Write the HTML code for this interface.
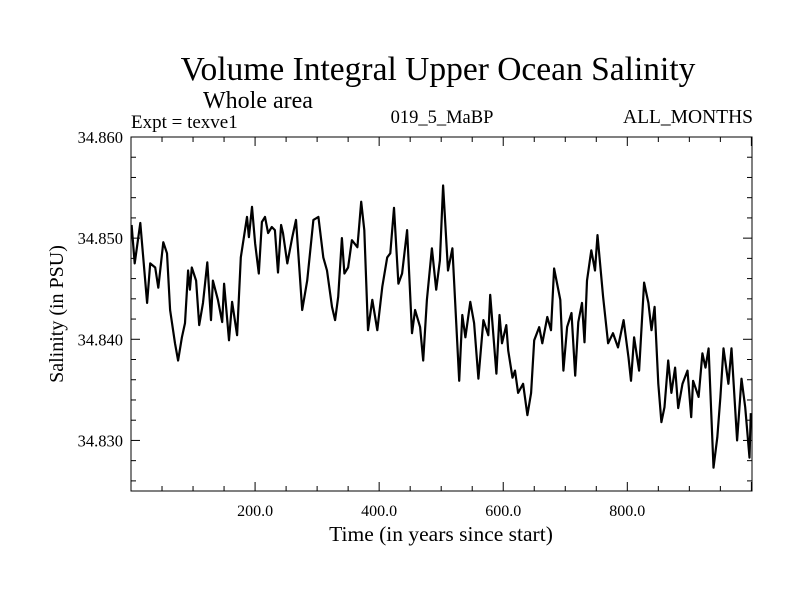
<!DOCTYPE html>
<html><head><meta charset="utf-8"><style>
html,body{margin:0;padding:0;background:#fff;width:800px;height:600px;overflow:hidden}
svg text{font-family:"Liberation Serif",serif;fill:#000}
</style></head><body>
<svg id="chart" width="800" height="600">
<text x="438" y="80" font-size="33.5" text-anchor="middle">Volume Integral Upper Ocean Salinity</text>
<text x="203" y="108" font-size="24">Whole area</text>
<text x="131" y="128" font-size="19">Expt = texve1</text>
<text x="442" y="123" font-size="18.5" text-anchor="middle">019_5_MaBP</text>
<text x="753" y="123" font-size="19.5" text-anchor="end">ALL_MONTHS</text>
<text x="441" y="541" font-size="21.5" text-anchor="middle">Time (in years since start)</text>
<text x="0" y="0" font-size="20" text-anchor="middle" transform="translate(63,314) rotate(-90)">Salinity (in PSU)</text>
<g id="axes"></g>
<g id="plot"></g>
</svg>
<script>
const years=[1,6,15,26,31,39,44,52,58,63,71,76,82,87,92,95,98,105,110,116,123,129,132,140,147,150,158,163,171,177,187,190,195,200,206,211,216,221,227,232,237,242,245,252,260,266,276,284,294,302,310,316,324,329,334,340,344,350,356,365,371,376,382,389,397,405,413,418,424,431,437,445,453,458,466,471,477,485,492,498,503,511,518,529,534,539,547,553,560,568,576,579,589,594,598,605,608,615,619,624,632,639,645,650,658,663,671,677,682,692,697,703,710,716,721,727,731,735,742,748,752,761,769,777,785,794,802,806,811,819,827,834,839,844,850,855,860,866,871,877,882,889,897,903,906,915,921,926,931,939,945,950,955,963,968,977,984,990,997,999];
const salinity=[34.8513,34.8475,34.8515,34.8436,34.8475,34.8471,34.8451,34.8496,34.8485,34.8429,34.8396,34.8379,34.8402,34.8416,34.8468,34.8449,34.8471,34.8458,34.8414,34.8436,34.8476,34.8419,34.8458,34.8439,34.8417,34.8455,34.8399,34.8437,34.8404,34.8481,34.8521,34.8501,34.8531,34.8495,34.8465,34.8516,34.8521,34.8505,34.8511,34.8508,34.8466,34.8513,34.8505,34.8475,34.8501,34.8518,34.8429,34.8458,34.8518,34.8521,34.8481,34.8468,34.8432,34.8419,34.8442,34.8500,34.8465,34.8471,34.8498,34.8491,34.8536,34.8508,34.8409,34.8439,34.8409,34.8452,34.8481,34.8485,34.8530,34.8455,34.8465,34.8508,34.8406,34.8429,34.8412,34.8379,34.8439,34.8490,34.8449,34.8478,34.8552,34.8468,34.8490,34.8359,34.8424,34.8402,34.8437,34.8416,34.8361,34.8419,34.8404,34.8444,34.8366,34.8424,34.8396,34.8414,34.8389,34.8362,34.8369,34.8347,34.8356,34.8325,34.8347,34.8399,34.8412,34.8396,34.8422,34.8409,34.8470,34.8439,34.8369,34.8412,34.8426,34.8364,34.8417,34.8436,34.8397,34.8458,34.8488,34.8468,34.8503,34.8442,34.8396,34.8406,34.8392,34.8419,34.8382,34.8359,34.8402,34.8369,34.8456,34.8436,34.8409,34.8432,34.8356,34.8318,34.8333,34.8379,34.8347,34.8372,34.8332,34.8356,34.8369,34.8323,34.8359,34.8343,34.8386,34.8372,34.8391,34.8273,34.8303,34.8343,34.8391,34.8356,34.8391,34.8300,34.8361,34.8333,34.8283,34.8327];
const xTickLabels=["200.0","400.0","600.0","800.0"];
const xTickValues=[200,400,600,800];
const yTickLabels=["34.830","34.840","34.850","34.860"];
const yTickValues=[34.830,34.840,34.850,34.860];

const L=131,R=752,T=137,B=491,X0=0,X1=1001,Y0=34.8250,Y1=34.8600;
const xs=v=>L+(v-X0)/(X1-X0)*(R-L);
const ys=v=>B-(v-Y0)/(Y1-Y0)*(B-T);
const NS="http://www.w3.org/2000/svg";
const axes=document.getElementById('axes'),plot=document.getElementById('plot');
function mk(tag,attrs,parent){const e=document.createElementNS(NS,tag);for(const k in attrs)e.setAttribute(k,attrs[k]);parent.appendChild(e);return e;}
const frame=mk('rect',{x:L,y:T,width:R-L,height:B-T,fill:'none',stroke:'#000','stroke-width':1},axes);


for(let v=50;v<X1;v+=50){
  const x=xs(v),len=(v%200===0)?9:5;
  const t1=mk('line',{x1:x,x2:x,y1:B,y2:B-len,stroke:'#000'},axes);
  
  
  const t2=mk('line',{x1:x,x2:x,y1:T,y2:T+len,stroke:'#000'},axes);
  
  
}
xTickValues.forEach((v,i)=>{
  const t=mk('text',{x:xs(v),y:B+25,'font-size':16,'text-anchor':'middle'},axes);
  t.textContent=xTickLabels[i];
  
  
});
for(let k=0;k<=17;k++){
  const v=34.826+k*0.002;if(v>Y1+1e-9)break;
  const y=ys(v),major=(k%5===2);const len=major?9:5;
  const t1=mk('line',{x1:L,x2:L+len,y1:y,y2:y,stroke:'#000'},axes);
  
  
  const t2=mk('line',{x1:R,x2:R-len,y1:y,y2:y,stroke:'#000'},axes);
  
  
}
yTickValues.forEach((v,i)=>{
  const t=mk('text',{x:123,y:ys(v)+6,'font-size':16.5,'text-anchor':'end'},axes);
  t.textContent=yTickLabels[i];
  
  
});
const pts=years.map((yr,i)=>xs(yr).toFixed(1)+','+ys(salinity[i]).toFixed(1)).join(' ');
const line=mk('polyline',{points:pts,fill:'none',stroke:'#000','stroke-width':2.2,'stroke-linejoin':'round'},plot);


</script>
</body></html>
